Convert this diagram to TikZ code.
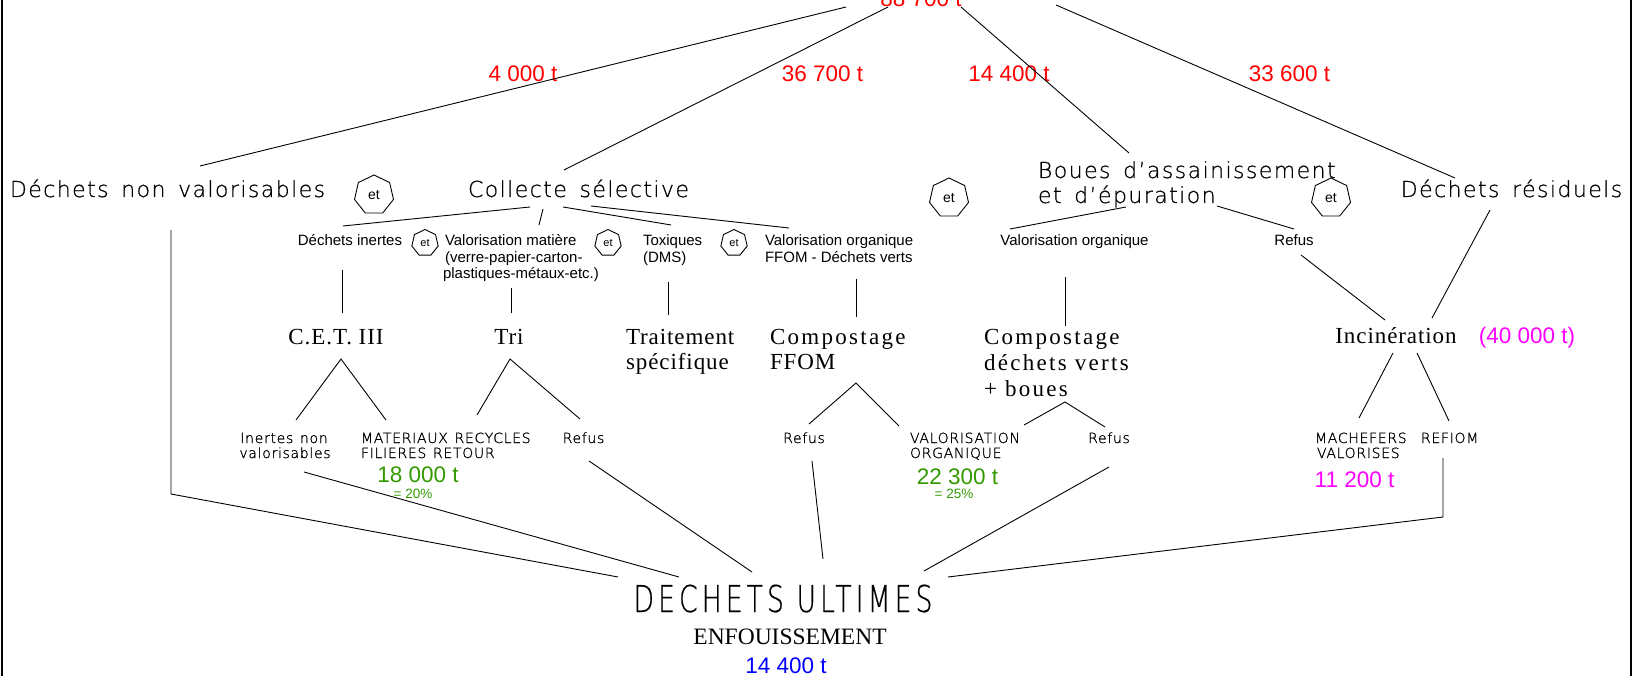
\documentclass[tikz,border=0pt]{standalone}
\usepackage{fontspec}
\usetikzlibrary{shapes.geometric}
\setmainfont{Liberation Sans}
\newfontfamily\arialf{Liberation Sans}
\newfontfamily\timesf[LetterSpace=4]{Liberation Serif}
\newfontfamily\timeswide[LetterSpace=10]{Liberation Serif}
\newfontfamily\timestight{Liberation Serif}
\IfFontExistsTF{DejaVu Sans ExtraLight}{%
  \newfontfamily\cadf[LetterSpace=6.5,WordSpace=1.5,FakeBold=0.6]{DejaVu Sans ExtraLight}%
  \newfontfamily\cadsmall[LetterSpace=5,WordSpace=1.3,FakeBold=1]{DejaVu Sans ExtraLight}%
  \newfontfamily\cadtall[LetterSpace=11,FakeStretch=0.72,FakeBold=0.4]{DejaVu Sans ExtraLight}%
}{%
  \newfontfamily\cadf[LetterSpace=6.5,WordSpace=1.5]{DejaVu Sans}%
  \newfontfamily\cadsmall[LetterSpace=5,WordSpace=1.3]{DejaVu Sans}%
  \newfontfamily\cadtall[LetterSpace=11,FakeStretch=0.72]{DejaVu Sans}%
}
\newcommand\fsz[1]{\fontsize{#1}{#1}\selectfont}
\definecolor{qred}{RGB}{255,0,0}
\definecolor{qgreen}{RGB}{51,153,0}
\definecolor{qmag}{RGB}{255,0,255}
\definecolor{qblue}{RGB}{0,0,255}
\tikzset{
  txt/.style={inner sep=0pt, outer sep=0pt, anchor=base},
  txtw/.style={inner sep=0pt, outer sep=0pt, anchor=base west},
  qty/.style={txt, font=\arialf\fsz{22.5}, text=qred},
  pct/.style={font=\arialf\fsz{13.5}, text=qgreen},
  head/.style={font=\cadf\fsz{22}},
  sub/.style={font=\arialf\fsz{15}},
  proc/.style={font=\timesf\fsz{23}},
  procw/.style={font=\timeswide\fsz{23}},
  outl/.style={font=\cadsmall\fsz{14}},
  link/.style={draw, line width=0.9pt},
  hepbig/.style={regular polygon, regular polygon sides=7, draw, line width=0.9pt,
    minimum size=40pt, inner sep=0pt, font=\arialf\fsz{14}},
  hepsmall/.style={regular polygon, regular polygon sides=7, draw, line width=0.9pt,
    minimum size=27pt, inner sep=0pt, font=\arialf\fsz{11}},
}
\begin{document}
\begin{tikzpicture}[x=1pt,y=-1pt]
\useasboundingbox (0,0) rectangle (1640,676);
\fill[white] (0,0) rectangle (1640,676);
% side rules of the sheet
\draw[line width=1.5pt] (2,0) -- (2,676);
\draw[line width=1.5pt] (1631,0) -- (1631,676);

% ---------- tonnages at the top ----------
\node[qty] (total) at (921,7) {88 700 t};
\node[qty] (q1) at (523,82) {4 000 t};
\node[qty] (q2) at (822.5,82) {36 700 t};
\node[qty] (q3) at (1009,82) {14 400 t};
\node[qty] (q4) at (1289.5,82) {33 600 t};

% ---------- main streams ----------
\node[txt, head] (dnv) at (167.5,197) {Déchets non valorisables};
\node[txt, head] (cs) at (578.5,197) {Collecte sélective};
\node[txtw, head] (boues1) at (1038,178) {Boues d’assainissement};
\node[txtw, head] (boues2) at (1038,203) {et d’épuration};
\node[txt, head] (dr) at (1511.5,197) {Déchets résiduels};

\node[hepbig] (et1) at (374,195) {et};
\node[hepbig] (et2) at (949,198) {et};
\node[hepbig] (et3) at (1331,198) {et};
\node[hepsmall] (et4) at (425,243) {et};
\node[hepsmall] (et5) at (608,243) {et};
\node[hepsmall] (et6) at (734,243) {et};

% ---------- sub-streams ----------
\node[txt, sub] (inert) at (350,246) {Déchets inertes};
\node[txtw, sub] (vm1) at (445,246) {Valorisation matière};
\node[txtw, sub] (vm2) at (445,262) {(verre-papier-carton-};
\node[txtw, sub] (vm3) at (443,278) {plastiques-métaux-etc.)};
\node[txtw, sub] (tox1) at (643,246) {Toxiques};
\node[txtw, sub] (tox2) at (643,262) {(DMS)};
\node[txtw, sub] (vo1) at (765,246) {Valorisation organique};
\node[txtw, sub] (vo2) at (765,262) {FFOM - Déchets verts};
\node[txt, sub] (vob) at (1074.5,246) {Valorisation organique};
\node[txt, sub] (refb) at (1294,246) {Refus};

% ---------- treatments ----------
\node[txt, proc] (cet) at (336,344) {C.E.T. III};
\node[txt, proc] (tri) at (509,344) {Tri};
\node[txtw, proc] (ts1) at (626,344) {Traitement};
\node[txtw, proc] (ts2) at (626,369) {spécifique};
\node[txtw, procw] (cf1) at (770,344) {Compostage};
\node[txtw, proc] (cf2) at (770,369) {FFOM};
\node[txtw, procw] (cv1) at (984,344) {Compostage};
\node[txtw, procw] (cv2) at (984,370) {déchets verts};
\node[txtw, procw] (cv3) at (984,396) {+ boues};
\node[txt, proc] (inc) at (1396,343) {Incinération};
\node[qty, text=qmag] (q40) at (1527,343) {(40 000 t)};

% ---------- outputs ----------
\node[txt, outl] (inv1) at (284,443) {Inertes non};
\node[txt, outl] (inv2) at (285,458) {valorisables};
\node[txtw, outl] (mr1) at (361,443) {MATERIAUX RECYCLES};
\node[txtw, outl] (mr2) at (361,458) {FILIERES RETOUR};
\node[txt, outl] (rt) at (583.5,443) {Refus};
\node[txt, outl] (rf) at (804,443) {Refus};
\node[txtw, outl] (vorg1) at (910,443) {VALORISATION};
\node[txtw, outl] (vorg2) at (910,458) {ORGANIQUE};
\node[txt, outl] (rv) at (1109,443) {Refus};
\node[txtw, outl] (mach1) at (1315,443) {MACHEFERS};
\node[txtw, outl] (mach2) at (1317,458) {VALORISES};
\node[txtw, outl] (refiom) at (1421,443) {REFIOM};

\node[qty, text=qgreen] (q18) at (418,482) {18 000 t};
\node[txt, pct] (p20) at (413,498) {= 20\%};
\node[qty, text=qgreen] (q22) at (957.5,484) {22 300 t};
\node[txt, pct] (p25) at (954,498) {= 25\%};
\node[qty, text=qmag] (q11) at (1354.5,487) {11 200 t};

% ---------- final destination ----------
\node[txt, font=\cadtall\fsz{37}] (du) at (783,612) {DECHETS ULTIMES};
\node[txt, font=\timestight\fsz{23.5}] (enf) at (790,644) {ENFOUISSEMENT};
\node[qty, text=qblue] (q144) at (786,673) {14 400 t};

% ---------- connector end points ----------
\coordinate (t-a) at (846,7);   \coordinate (dnv-in) at (200,166);
\coordinate (t-b) at (888,7);   \coordinate (cs-in) at (564,170);
\coordinate (t-c) at (961,7);   \coordinate (boues-in) at (1129,153);
\coordinate (t-d) at (1056,5);  \coordinate (dr-in) at (1455,178);

\coordinate (cs-o1) at (530,207); \coordinate (inert-in) at (343,226);
\coordinate (cs-o2) at (543,209); \coordinate (vm-in) at (539,225);
\coordinate (cs-o3) at (563,207); \coordinate (tox-in) at (671,225);
\coordinate (cs-o4) at (591,206); \coordinate (vo-in) at (789,228);

\coordinate (boues-o1) at (1126,207); \coordinate (vob-in) at (1010,229);
\coordinate (boues-o2) at (1217,206); \coordinate (refb-in) at (1294,229);
\coordinate (dr-o) at (1490,210);     \coordinate (inc-in1) at (1432,318);
\coordinate (refb-o) at (1301,255);   \coordinate (inc-in2) at (1385,320);

\coordinate (inert-o) at (342,270); \coordinate (cet-in) at (342,313);
\coordinate (vm-o) at (511,288);    \coordinate (tri-in) at (511,313);
\coordinate (tox-o) at (668,282);   \coordinate (ts-in) at (668,315);
\coordinate (vo-o) at (856,279);    \coordinate (cf-in) at (856,317);
\coordinate (vob-o) at (1065,277);  \coordinate (cv-in) at (1065,326);

\coordinate (cet-o) at (341,359);  \coordinate (inv-in) at (296,420);  \coordinate (mr-in) at (386,420);
\coordinate (tri-o) at (510,359);  \coordinate (mr-in2) at (477,415); \coordinate (rt-in) at (580,419);
\coordinate (cf-o) at (856,383);   \coordinate (rf-in) at (809,424);  \coordinate (vorg-in) at (899,426);
\coordinate (cv-o) at (1065,402);  \coordinate (vorg-in2) at (1024,425); \coordinate (rv-in) at (1105,427);
\coordinate (inc-o1) at (1393,353); \coordinate (mach-in) at (1359,418);
\coordinate (inc-o2) at (1417,353); \coordinate (refiom-in) at (1449,421);

\coordinate (dnv-o) at (171,230);   \coordinate (dnv-bend) at (171,494); \coordinate (du-in1) at (618,577);
\coordinate (inv-o) at (304,472);   \coordinate (du-in2) at (679,577);
\coordinate (rt-o) at (589,461);    \coordinate (du-in3) at (752,572);
\coordinate (rf-o) at (812,461);    \coordinate (du-in4) at (823,559);
\coordinate (rv-o) at (1109,467);   \coordinate (du-in5) at (924,571);
\coordinate (refiom-o) at (1443,458); \coordinate (refiom-bend) at (1443,517); \coordinate (du-in6) at (948,577);

% ---------- connectors ----------
\draw[link] (t-a) -- (dnv-in);
\draw[link] (t-b) -- (cs-in);
\draw[link] (t-c) -- (boues-in);
\draw[link] (t-d) -- (dr-in);

\draw[link] (cs-o1) -- (inert-in);
\draw[link] (cs-o2) -- (vm-in);
\draw[link] (cs-o3) -- (tox-in);
\draw[link] (cs-o4) -- (vo-in);
\draw[link] (boues-o1) -- (vob-in);
\draw[link] (boues-o2) -- (refb-in);
\draw[link] (dr-o) -- (inc-in1);
\draw[link] (refb-o) -- (inc-in2);

\draw[link] (inert-o) -- (cet-in);
\draw[link] (vm-o) -- (tri-in);
\draw[link] (tox-o) -- (ts-in);
\draw[link] (vo-o) -- (cf-in);
\draw[link] (vob-o) -- (cv-in);

\draw[link] (inv-in) -- (cet-o) -- (mr-in);
\draw[link] (mr-in2) -- (tri-o) -- (rt-in);
\draw[link] (rf-in) -- (cf-o) -- (vorg-in);
\draw[link] (vorg-in2) -- (cv-o) -- (rv-in);
\draw[link] (inc-o1) -- (mach-in);
\draw[link] (inc-o2) -- (refiom-in);

\draw[link] (dnv-o) -- (dnv-bend) -- (du-in1);
\draw[link] (inv-o) -- (du-in2);
\draw[link] (rt-o) -- (du-in3);
\draw[link] (rf-o) -- (du-in4);
\draw[link] (rv-o) -- (du-in5);
\draw[link] (refiom-o) -- (refiom-bend) -- (du-in6);
\end{tikzpicture}
\end{document}
